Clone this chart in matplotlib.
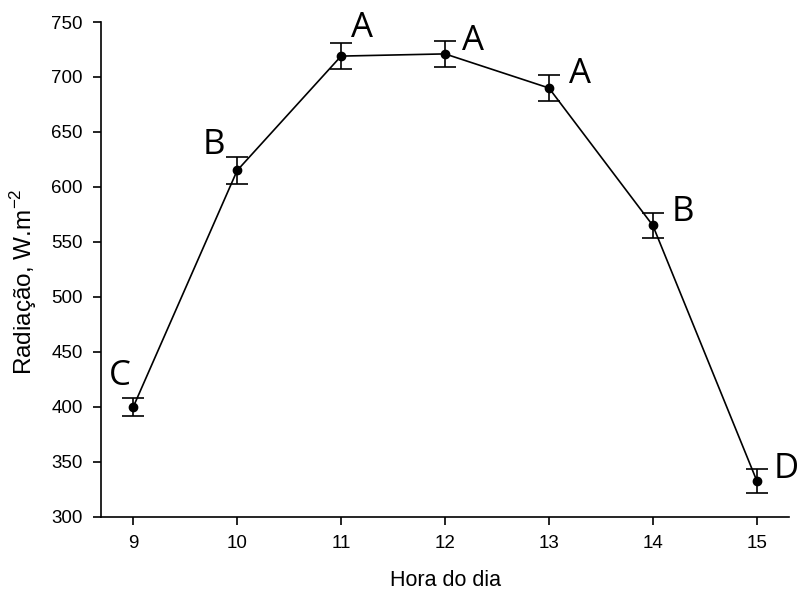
import matplotlib
matplotlib.use("Agg")
import matplotlib.pyplot as plt

# data
hours = [9, 10, 11, 12, 13, 14, 15]
radiation = [400, 615, 719, 721, 690, 565, 333]
errors = [8.5, 12, 12, 12, 11.5, 11, 11]
letters = ["C", "B", "A", "A", "A", "B", "D"]
# where each letter sits (data coords)
letter_x = [8.87, 9.78, 11.2, 12.27, 13.3, 14.29, 15.28]
letter_y = [428, 638, 745, 733, 703, 577, 344]

plt.rcParams['font.family'] = ['Liberation Sans', 'DejaVu Sans']

fig = plt.figure(figsize=(7.98, 5.93), dpi=100)
ax = fig.add_axes([0.1266, 0.1282, 0.8621, 0.8347])

ax.errorbar(hours, radiation, yerr=errors, color='black', lw=1.2,
            marker='o', markersize=6, capsize=8, elinewidth=1.2, capthick=1.2)

for lx, ly, t in zip(letter_x, letter_y, letters):
    ax.text(lx, ly, t, fontsize=25, family='Open Sans', ha='center', va='center')

ax.set_xlim(8.69, 15.31)
ax.set_ylim(300, 750)
ax.set_xticks(hours)
ax.set_yticks(range(300, 751, 50))

ax.spines['top'].set_visible(False)
ax.spines['right'].set_visible(False)
ax.spines['left'].set_linewidth(1.2)
ax.spines['bottom'].set_linewidth(1.2)
ax.tick_params(direction='out', length=6, width=1.2, labelsize=13.5, pad=7)

ax.set_xlabel("Hora do dia", fontsize=15.5, labelpad=13)
ax.set_ylabel("Radiação, W.m$^{\\mathregular{-2}}$", fontsize=17.5)
ax.yaxis.set_label_coords(-0.09, 0.475)

fig.savefig("out.png", dpi=100)
